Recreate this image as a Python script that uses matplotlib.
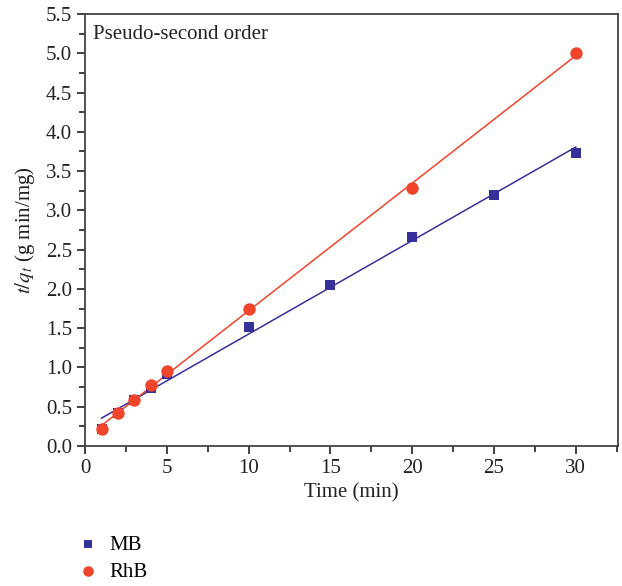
import matplotlib
matplotlib.use("Agg")
import matplotlib.pyplot as plt
import matplotlib.ticker as ticker
import numpy as np

plt.rcParams['font.family'] = ['Liberation Serif', 'DejaVu Serif']
plt.rcParams['mathtext.fontset'] = 'stix'

# данные
t_mb = [1, 2, 3, 4, 5, 10, 15, 20, 25, 30]
y_mb = [0.22, 0.42, 0.58, 0.74, 0.92, 1.52, 2.05, 2.66, 3.20, 3.73]
t_rhb = [1, 2, 3, 4, 5, 10, 20, 30]
y_rhb = [0.21, 0.42, 0.59, 0.78, 0.95, 1.74, 3.28, 5.00]

c_mb = '#35309a'
c_rhb = '#f0452b'

fig = plt.figure(figsize=(6.22, 5.86), dpi=100)
ax = fig.add_axes([0.137, 0.239, 0.857, 0.737])

# линейная аппроксимация
x_fit = np.linspace(1, 30, 50)
p_mb = np.polyfit(t_mb, y_mb, 1)
p_rhb = np.polyfit(t_rhb, y_rhb, 1)
ax.plot(x_fit, np.polyval(p_mb, x_fit), color=c_mb, lw=1.1, zorder=2)
ax.plot(x_fit, np.polyval(p_rhb, x_fit), color=c_rhb, lw=1.1, zorder=2)

ax.scatter(t_mb, y_mb, marker='s', s=55, color=c_mb, label='MB', zorder=3, linewidths=0)
ax.scatter(t_rhb, y_rhb, marker='o', s=80, color=c_rhb, label='RhB', zorder=4, linewidths=0)

ax.set_xlim(0, 32.6)
ax.set_ylim(0, 5.5)
ax.xaxis.set_major_locator(ticker.MultipleLocator(5))
ax.xaxis.set_minor_locator(ticker.MultipleLocator(2.5))
ax.yaxis.set_major_locator(ticker.MultipleLocator(0.5))
ax.yaxis.set_minor_locator(ticker.MultipleLocator(0.25))
ax.yaxis.set_major_formatter(ticker.FormatStrFormatter('%.1f'))
ax.tick_params(which='both', direction='out', labelsize=15, colors='#333333', width=1.3)
ax.tick_params(which='major', length=6)
ax.tick_params(which='minor', length=4)
ax.tick_params(axis='both', labelcolor='#222222')
for s in ax.spines.values():
    s.set_linewidth(1.3)
    s.set_color('#444444')

ax.set_xlabel('Time (min)', fontsize=15, color='#222222', labelpad=4)
ax.set_ylabel(r'$t/q_t$ (g min/mg)', fontsize=15, color='#222222', labelpad=6)
ax.text(0.015, 0.975, 'Pseudo-second order', transform=ax.transAxes,
        fontsize=15, va='top', ha='left', color='#222222')

ax.legend(loc='upper left', bbox_to_anchor=(-0.05, -0.163), frameon=False,
          fontsize=15, handlelength=1.0, handletextpad=0.55, labelspacing=0.35,
          scatterpoints=1, markerscale=0.85)

fig.savefig('out.png', dpi=100)
